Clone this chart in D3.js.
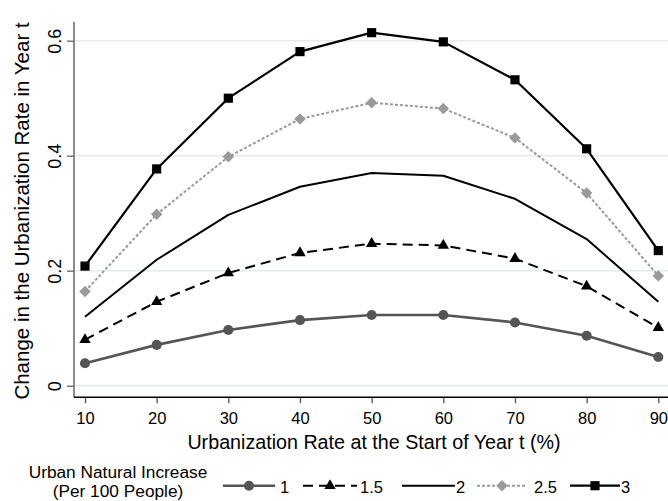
<!DOCTYPE html>
<html>
<head>
<meta charset="utf-8">
<script src="https://cdn.jsdelivr.net/npm/d3@7"></script>
<style>
  body { margin: 0; background: #fff; }
  text { font-family: Arial, "Liberation Sans", Helvetica, sans-serif; fill: #000; }
</style>
</head>
<body>
<svg id="chart" width="668" height="501"></svg>
<script>
// Urbanization rate at the start of the year (%)
const startRates = [10, 20, 30, 40, 50, 60, 70, 80, 90];

// Change in urbanization rate, by urban natural increase (per 100 people)
const increase1   = [0.039, 0.071, 0.097, 0.114, 0.123, 0.123, 0.110, 0.087, 0.050];
const increase1_5 = [0.080, 0.146, 0.196, 0.231, 0.247, 0.244, 0.221, 0.173, 0.101];
const increase2   = [0.120, 0.219, 0.297, 0.346, 0.370, 0.365, 0.325, 0.255, 0.146];
const increase2_5 = [0.164, 0.298, 0.398, 0.464, 0.492, 0.482, 0.431, 0.335, 0.191];
const increase3   = [0.208, 0.377, 0.500, 0.581, 0.614, 0.598, 0.532, 0.412, 0.235];

const seriesLabels = ["1", "1.5", "2", "2.5", "3"];
const yTickValues = [0, 0.2, 0.4, 0.6];

const xTitle = "Urbanization Rate at the Start of Year t (%)";
const yTitle = "Change in the Urbanization Rate in Year t";
const legendTitle = ["Urban Natural Increase", "(Per 100 People)"];

const seriesValues = [increase1, increase1_5, increase2, increase2_5, increase3];

// Line and marker look for each series
const styles = [
  { color: "#555555", width: 2.6, dash: null,   marker: "circle"   },
  { color: "#000000", width: 2.0, dash: "10,6", marker: "triangle" },
  { color: "#000000", width: 2.0, dash: null,   marker: null       },
  { color: "#9a9a9a", width: 2.0, dash: "3,2",  marker: "diamond"  },
  { color: "#000000", width: 2.2, dash: null,   marker: "square"   }
];

const svg = d3.select("#chart");

// Plot frame
const frame = { left: 74, right: 668, top: 21.7, bottom: 397.3 };

const x = d3.scaleLinear().domain([10, 90]).range([85, 658.3]);
const y = d3.scaleLinear().domain([0, 0.6]).range([385.7, 40.7]);

// Horizontal gridlines
svg.append("g")
  .selectAll("line")
  .data(yTickValues)
  .join("line")
  .attr("x1", frame.left).attr("x2", frame.right)
  .attr("y1", d => y(d)).attr("y2", d => y(d))
  .attr("stroke", "#e3ebee")
  .attr("stroke-width", 1.6);

// Y axis
const yAxis = svg.append("g")
  .attr("transform", `translate(${frame.left},0)`)
  .call(d3.axisLeft(y)
    .tickValues(yTickValues)
    .tickSize(7)
    .tickSizeOuter(0)
    .tickFormat(d => d === 0 ? "0" : d3.format(".1f")(d)));
yAxis.select(".domain").remove();
yAxis.selectAll(".tick line").attr("stroke", "#666").attr("stroke-width", 1.3);
yAxis.selectAll(".tick text")
  .attr("x", 0).attr("y", 0).attr("dy", 0)
  .attr("transform", "translate(-13,0) rotate(-90)")
  .attr("text-anchor", "middle")
  .style("font-size", "18px")
  .style("font-family", "Arial, 'Liberation Sans', sans-serif")
  .attr("fill", "#000");
svg.append("line")
  .attr("x1", frame.left).attr("x2", frame.left)
  .attr("y1", frame.top).attr("y2", frame.bottom)
  .attr("stroke", "#666").attr("stroke-width", 1.5);

// X axis
const xAxis = svg.append("g")
  .attr("transform", `translate(0,${frame.bottom})`)
  .call(d3.axisBottom(x)
    .tickValues(startRates)
    .tickSize(6)
    .tickSizeOuter(0));
xAxis.select(".domain").remove();
xAxis.selectAll(".tick line").attr("stroke", "#555").attr("stroke-width", 1.3);
xAxis.selectAll(".tick text")
  .attr("y", 26.7).attr("dy", 0)
  .style("font-size", "16.5px")
  .style("font-family", "Arial, 'Liberation Sans', sans-serif")
  .attr("fill", "#000");
svg.append("line")
  .attr("x1", frame.left).attr("x2", frame.right)
  .attr("y1", frame.bottom).attr("y2", frame.bottom)
  .attr("stroke", "#000").attr("stroke-width", 1.5);

// Axis titles
svg.append("text")
  .attr("x", 374).attr("y", 449)
  .attr("text-anchor", "middle")
  .style("font-size", "19.7px")
  .text(xTitle);

svg.append("text")
  .attr("transform", "translate(29,211) rotate(-90)")
  .attr("text-anchor", "middle")
  .style("font-size", "20.5px")
  .text(yTitle);

// Marker drawing
const symbolTypes = {
  circle: d3.symbolCircle,
  triangle: d3.symbolTriangle,
  diamond: d3.symbolSquare,
  square: d3.symbolSquare
};
const symbolSizes = { circle: 80, triangle: 56, diamond: 66, square: 84 };
const symbolRotation = { circle: 0, triangle: 0, diamond: 45, square: 0 };

function markerPath(kind) {
  return d3.symbol().type(symbolTypes[kind]).size(symbolSizes[kind])();
}
function markerTransform(kind, px, py) {
  return `translate(${px},${py}) rotate(${symbolRotation[kind]})`;
}

// Series lines and markers
const line = d3.line().x((d, i) => x(startRates[i])).y(d => y(d));

seriesValues.forEach((vals, s) => {
  const st = styles[s];
  svg.append("path")
    .datum(vals)
    .attr("d", line)
    .attr("fill", "none")
    .attr("stroke", st.color)
    .attr("stroke-width", st.width)
    .attr("stroke-dasharray", st.dash)
    .attr("stroke-linejoin", "round");
  if (st.marker) {
    svg.append("g")
      .selectAll("path")
      .data(vals)
      .join("path")
      .attr("transform", (d, i) => markerTransform(st.marker, x(startRates[i]), y(d)))
      .attr("d", markerPath(st.marker))
      .attr("fill", st.color);
  }
});

// Legend
svg.append("text")
  .attr("x", 118).attr("y", 478)
  .attr("text-anchor", "middle")
  .style("font-size", "17.3px")
  .text(legendTitle[0]);
svg.append("text")
  .attr("x", 118).attr("y", 497)
  .attr("text-anchor", "middle")
  .style("font-size", "17.3px")
  .text(legendTitle[1]);

const legendKeys = [
  { x0: 223, x1: 275, tx: 280 },
  { x0: 303, x1: 357, tx: 360 },
  { x0: 402, x1: 455, tx: 456 },
  { x0: 477, x1: 527, tx: 534 },
  { x0: 570, x1: 620, tx: 621 }
];
const legendY = 485.7;

seriesLabels.forEach((label, s) => {
  const st = styles[s];
  const k = legendKeys[s];
  const g = svg.append("g");
  g.append("line")
    .attr("x1", k.x0).attr("x2", k.x1)
    .attr("y1", legendY).attr("y2", legendY)
    .attr("stroke", st.color)
    .attr("stroke-width", st.width)
    .attr("stroke-dasharray", st.dash);
  if (st.marker) {
    g.append("path")
      .attr("transform", markerTransform(st.marker, (k.x0 + k.x1) / 2, legendY))
      .attr("d", markerPath(st.marker))
      .attr("fill", st.color);
  }
  g.append("text")
    .attr("x", k.tx).attr("y", 493.3)
    .style("font-size", "16.5px")
    .text(label);
});
</script>
</body>
</html>
